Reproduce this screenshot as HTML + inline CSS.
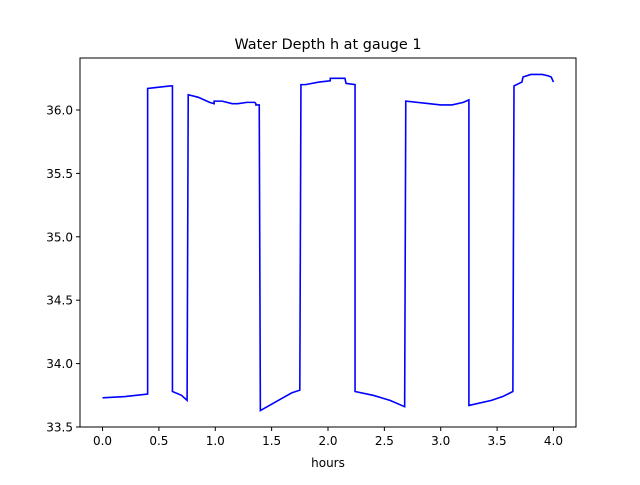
<!DOCTYPE html>
<html><head><meta charset="utf-8"><style>
body{margin:0;background:#fff;}
svg text{font-family:"DejaVu Sans","Liberation Sans",sans-serif;}
</style></head><body>
<svg id="chart" width="640" height="480" xmlns="http://www.w3.org/2000/svg">
<rect width="640" height="480" fill="#fff"/>
<text x="328" y="49" text-anchor="middle" font-size="14.4">Water Depth h at gauge 1</text>
<g id="plot"></g>
<rect x="80" y="58" width="496" height="369" fill="none" stroke="#000" stroke-width="1"/>
<text x="328" y="467" text-anchor="middle" font-size="12">hours</text>
</svg>
<script>
const hours = [0.0,0.2,0.3,0.4,0.4,0.5,0.6,0.62,0.62,0.7,0.75,0.76,0.85,0.95,0.99,0.99,1.06,1.15,1.2,1.28,1.35,1.36,1.36,1.39,1.40,1.5,1.6,1.68,1.75,1.76,1.8,1.92,2.02,2.02,2.15,2.16,2.24,2.24,2.4,2.55,2.68,2.69,2.9,3.0,3.1,3.2,3.25,3.25,3.45,3.55,3.64,3.65,3.72,3.73,3.8,3.9,3.95,3.98,4.0];
const depth = [33.73,33.74,33.75,33.76,36.17,36.18,36.19,36.19,33.78,33.75,33.71,36.12,36.1,36.06,36.05,36.07,36.07,36.05,36.05,36.06,36.06,36.05,36.04,36.04,33.63,33.68,33.73,33.77,33.79,36.2,36.2,36.22,36.23,36.25,36.25,36.21,36.2,33.78,33.75,33.71,33.66,36.07,36.05,36.04,36.04,36.06,36.08,33.67,33.71,33.74,33.78,36.19,36.22,36.26,36.28,36.28,36.27,36.26,36.22];
const xTicks = [0.0,0.5,1.0,1.5,2.0,2.5,3.0,3.5,4.0];
const yTicks = [33.5,34.0,34.5,35.0,35.5,36.0];
const X0=80,X1=576,Y0=58,Y1=427;
const xMin=-0.2,xMax=4.2,yMin=33.5,yMax=36.41;
function xs(v){return X0+(v-xMin)/(xMax-xMin)*(X1-X0);}
function ys(v){return Y1-(v-yMin)/(yMax-yMin)*(Y1-Y0);}
const ns="http://www.w3.org/2000/svg";
const g=document.getElementById('plot');
function mk(t,a){const e=document.createElementNS(ns,t);for(const k in a)e.setAttribute(k,a[k]);g.appendChild(e);return e;}
xTicks.forEach(v=>{
  const l=mk('line',{x1:xs(v),x2:xs(v),y1:Y1,y2:Y1+4,stroke:'#000'});
  
  
  const t=mk('text',{x:xs(v),y:Y1+18,'text-anchor':'middle','font-size':12});
  t.textContent=v.toFixed(1);
  
  
});
yTicks.forEach(v=>{
  const l=mk('line',{x1:X0-4,x2:X0,y1:ys(v),y2:ys(v),stroke:'#000'});
  
  
  const t=mk('text',{x:X0-7,y:ys(v)+4.5,'text-anchor':'end','font-size':12});
  t.textContent=v.toFixed(1);
  
  
});
const p=mk('polyline',{points:hours.map((h,i)=>xs(h)+','+ys(depth[i])).join(' '),fill:'none',stroke:'#0000ff','stroke-width':1.6});


</script>
</body></html>
